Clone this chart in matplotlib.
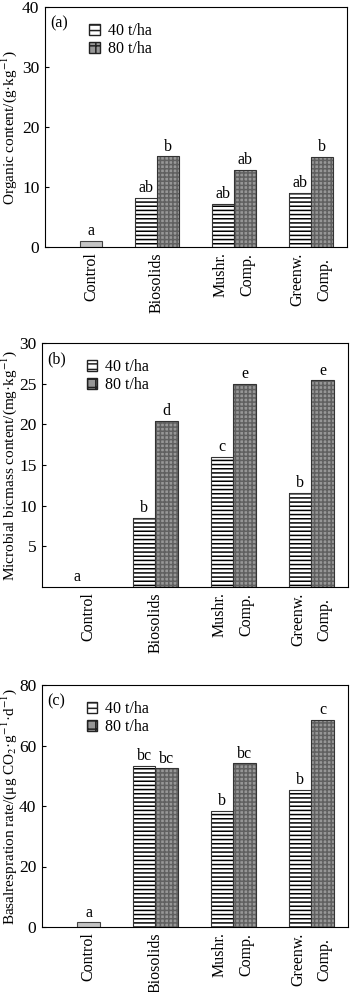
import matplotlib
matplotlib.use("Agg")
import matplotlib.pyplot as plt
from matplotlib.patches import Patch
import numpy as np

plt.rcParams['font.family'] = ['Liberation Serif', 'DejaVu Serif']
plt.rcParams['mathtext.fontset'] = 'stix'
plt.rcParams['hatch.linewidth'] = 1.1

groups = ["Biosolids", "Mushr.\nComp.", "Greenw.\nComp."]
control_label = "Control"
series_names = ["40 t/ha", "80 t/ha"]

# panel (a) organic content
a_control = 1.0
a_40 = [8.2, 7.2, 9.0]
a_80 = [15.1, 12.8, 15.0]
a_ctrl_letter = "a"
a_40_letters = ["ab", "ab", "ab"]
a_80_letters = ["b", "ab", "b"]

# panel (b) microbial biomass
b_control = 0.0
b_40 = [8.5, 16.0, 11.6]
b_80 = [20.4, 25.0, 25.4]
b_ctrl_letter = "a"
b_40_letters = ["b", "c", "b"]
b_80_letters = ["d", "e", "e"]

# panel (c) basal respiration
c_control = 1.5
c_40 = [53.3, 38.3, 45.3]
c_80 = [52.4, 54.1, 68.4]
c_ctrl_letter = "a"
c_40_letters = ["bc", "b", "b"]
c_80_letters = ["bc", "bc", "c"]

fig = plt.figure(figsize=(3.5, 9.92), dpi=100)
W, H = 350, 992

def ax_at(l, t, r, b):
    return fig.add_axes([l / W, 1 - b / H, (r - l) / W, (b - t) / H])

w = 0.29
fs = 11.5
C80_face = "#979797"

def draw_bar(ax, x, h, kind):
    if kind == "40":
        ax.bar(x, h, w, color="white", edgecolor="black", hatch="----", linewidth=0)
        ax.bar(x, h, w, color="none", edgecolor="#333333", linewidth=0.8)
    elif kind == "80":
        ax.bar(x, h, w, color=C80_face, edgecolor="#606060", hatch="++++", linewidth=0)
        ax.bar(x, h, w, color="none", edgecolor="#333333", linewidth=0.8)
    else:
        ax.bar(x, h, w, color="#c4c4c4", edgecolor="#444444", linewidth=0.8)

def panel(ax, left_px, width_px, ctrl, v40, v80, cl, l40, l80, ymax, yticks, ylabel, tag,
          ctrl_letter_x, lab_off):
    xc = np.arange(1, len(groups) + 1)
    ctrl_x = w / 2
    if ctrl > 0:
        draw_bar(ax, ctrl_x, ctrl, "ctrl")
    ax.text(ctrl_letter_x, ctrl + lab_off, cl, ha="center", va="bottom", fontsize=fs)
    for i, x in enumerate(xc):
        draw_bar(ax, x - w / 2, v40[i], "40")
        draw_bar(ax, x + w / 2, v80[i], "80")
        ax.text(x - w / 2, v40[i] + lab_off, l40[i], ha="center", va="bottom", fontsize=fs)
        ax.text(x + w / 2, v80[i] + lab_off, l80[i], ha="center", va="bottom", fontsize=fs)
    ax.set_xlim(-0.455, 3.47)
    ax.set_ylim(0, ymax)
    ax.set_yticks(yticks)
    ax.tick_params(axis="y", labelsize=12.5, direction="in", length=3, pad=4)
    ax.set_xticks([ctrl_x] + list(xc))
    ax.set_xticklabels([control_label] + groups, rotation=90, fontsize=fs, linespacing=1.9)
    ax.tick_params(axis="x", length=0, pad=4)
    ax.set_ylabel(ylabel, fontsize=11)
    ax.yaxis.set_label_coords((19.5 - left_px) / width_px, 0.5)
    ax.text(0.017, 0.965, tag, transform=ax.transAxes, ha="left", va="top", fontsize=fs)
    handles = [Patch(facecolor="white", edgecolor="#222222", hatch="---"),
               Patch(facecolor=C80_face, edgecolor="#222222", hatch="++")]
    ax.legend(handles, series_names, loc="upper left", bbox_to_anchor=(0.105, 0.985),
              frameon=False, fontsize=fs, handlelength=0.65, handleheight=0.65,
              handletextpad=0.5, labelspacing=0.1, borderpad=0.3)
    for s in ax.spines.values():
        s.set_linewidth(0.8)

ax1 = ax_at(45, 7, 347, 247)
panel(ax1, 45, 302, a_control, a_40, a_80, a_ctrl_letter, a_40_letters, a_80_letters,
      40, [0, 10, 20, 30, 40], "Organic content/(g·kg$^{-1}$)", "(a)", w / 2, 0.3)

ax2 = ax_at(42, 343, 348, 587)
panel(ax2, 42, 306, b_control, b_40, b_80, b_ctrl_letter, b_40_letters, b_80_letters,
      30, [5, 10, 15, 20, 25, 30], "Microbial bicmass content/(mg·kg$^{-1}$)", "(b)", 0.0, 0.2)

ax3 = ax_at(42, 685, 348, 927)
panel(ax3, 42, 306, c_control, c_40, c_80, c_ctrl_letter, c_40_letters, c_80_letters,
      80, [0, 20, 40, 60, 80], "Basalrespration rate/(μg CO$_2$·g$^{-1}$·d$^{-1}$)", "(c)", w / 2, 0.6)

fig.savefig("out.png", dpi=100)
